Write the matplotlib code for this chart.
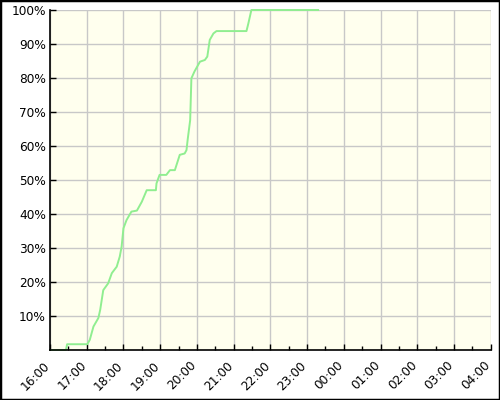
import matplotlib
matplotlib.use("Agg")
import matplotlib.pyplot as plt
from matplotlib.patches import Rectangle
from matplotlib.transforms import ScaledTranslation

# time of day (HH:MM) and cumulative percent
times = ["16:00", "16:26", "16:28", "17:01", "17:05", "17:11", "17:19", "17:22",
         "17:27", "17:35", "17:41", "17:49", "17:54", "17:57", "18:00", "18:05",
         "18:13", "18:22", "18:30", "18:38", "18:53", "18:54", "18:59", "19:10",
         "19:16", "19:24", "19:32", "19:40", "19:43", "19:45", "19:49", "19:51",
         "19:56", "20:05", "20:13", "20:17", "20:21", "20:27", "20:32", "21:21",
         "21:24", "21:29", "23:18"]
percent = [0, 0, 1.7, 1.7, 3.0, 6.9, 9.4, 11.8,
           17.6, 19.6, 22.6, 24.5, 27.5, 30.4, 35.8, 38.2,
           40.7, 41.0, 43.6, 47.0, 47.0, 49.0, 51.5, 51.5,
           52.9, 52.9, 57.4, 57.8, 58.8, 62.0, 67.6, 79.9,
           81.9, 84.8, 85.3, 86.3, 91.2, 93.1, 93.8, 93.8,
           96.0, 100, 100]

tick_labels = ["16:00", "17:00", "18:00", "19:00", "20:00", "21:00", "22:00",
               "23:00", "00:00", "01:00", "02:00", "03:00", "04:00"]
y_ticks = [10, 20, 30, 40, 50, 60, 70, 80, 90, 100]


def to_hours(s):
    h, m = s.split(":")
    h = int(h)
    if h < 16:
        h += 24
    return h - 16 + int(m) / 60.0


x = [to_hours(t) for t in times]
x_ticks = [to_hours(t) for t in tick_labels]

fig = plt.figure(figsize=(5, 4), dpi=100)
ax = fig.add_axes([50 / 500, 50 / 400, 440.7 / 500, 340 / 400])
ax.set_facecolor("#ffffee")

ax.plot(x, percent, color="#90ee90", lw=1.4, zorder=3, clip_on=False)

ax.set_xlim(0, 12)
ax.set_ylim(0, 100)
ax.set_xticks(x_ticks)
ax.set_xticklabels(tick_labels, rotation=45, ha="right", rotation_mode="anchor")
ax.set_xticks([v + 0.5 for v in x_ticks[:-1]], minor=True)
ax.set_yticks(y_ticks)
ax.set_yticklabels([f"{v}%" for v in y_ticks])

ax.grid(True, color="#c8c8c8", lw=1.0)
ax.set_axisbelow(True)
for s in ["top", "right"]:
    ax.spines[s].set_visible(False)
for s in ["left", "bottom"]:
    ax.spines[s].set_color("black")
    ax.spines[s].set_linewidth(1.2)
    ax.spines[s].set_zorder(4)

ax.tick_params(axis="both", which="major", direction="in", length=4.5,
               width=1, labelsize=8.7, colors="black", pad=3)
ax.tick_params(axis="x", which="minor", direction="in", length=3, width=1)
ax.tick_params(axis="x", which="major", pad=5)

# nudge the rotated hour labels left/down like the original
shift = ScaledTranslation(-7 / 100, -2 / 100, fig.dpi_scale_trans)
for lbl in ax.get_xticklabels():
    lbl.set_transform(lbl.get_transform() + shift)

fig.patches.append(Rectangle((0, 0), 1, 1, transform=fig.transFigure,
                             fill=False, ec="black", lw=2.5))

fig.savefig("out.png", dpi=100)
